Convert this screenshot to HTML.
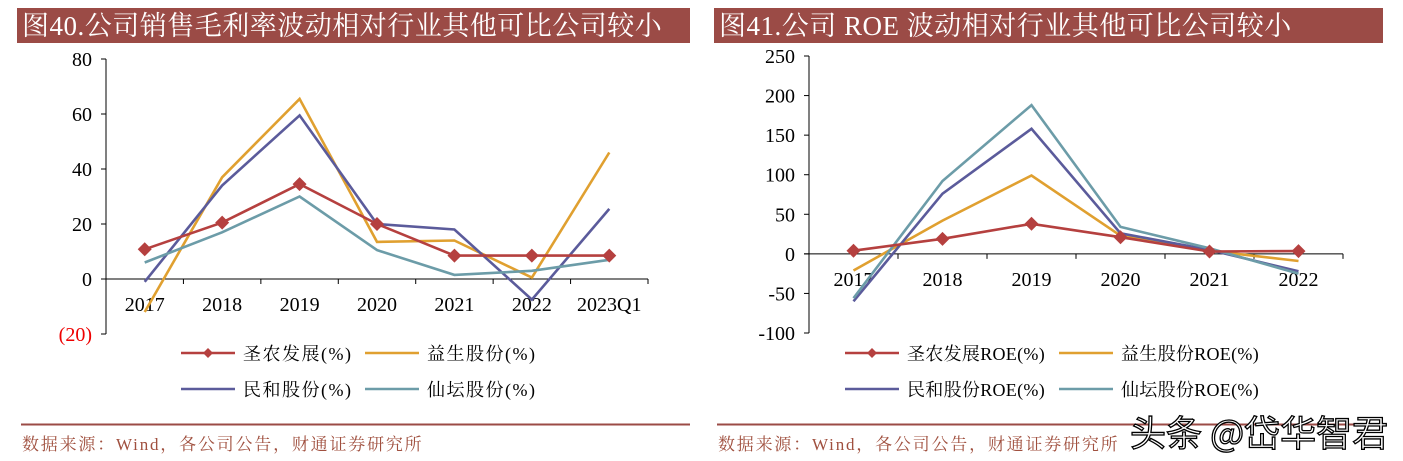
<!DOCTYPE html>
<html><head><meta charset="utf-8">
<style>
body{margin:0;background:#fff;}
svg{display:block;font-family:"Liberation Serif","Noto Serif CJK SC",serif;}
</style></head>
<body>
<svg id="s" width="1403" height="461" viewBox="0 0 1403 461">
<rect x="17" y="8" width="673" height="35" fill="#9B4B46"/>
<text x="22" y="35" font-size="27" letter-spacing="0.5" fill="#fff">图40.公司销售毛利率波动相对行业其他可比公司较小</text>
<rect x="714" y="8" width="669" height="35" fill="#9B4B46"/>
<text x="719" y="35" font-size="27" letter-spacing="0.5" fill="#fff">图41.公司 ROE 波动相对行业其他可比公司较小</text>
<line x1="21" y1="424.5" x2="690" y2="424.5" stroke="#9B4B46" stroke-width="2"/>
<line x1="717" y1="424.5" x2="1383" y2="424.5" stroke="#9B4B46" stroke-width="2"/>
<text x="22" y="450" font-size="17" letter-spacing="1.8" fill="#A0503F">数据来源：Wind，各公司公告，财通证券研究所</text>
<text x="718" y="450" font-size="17" letter-spacing="1.8" fill="#A0503F">数据来源：Wind，各公司公告，财通证券研究所</text>
<text x="1130" y="446" font-size="36" fill="#fff" stroke="#000" stroke-width="1.3" font-family="'Noto Sans CJK SC',sans-serif">头条 @岱华智君</text>
<g id="L"></g><g id="R"></g>
</svg>
<script>
const colors=["#B5403F","#E0A030","#5B5B9B","#6C9CA8"];
const leftCats=["2017","2018","2019","2020","2021","2022","2023Q1"];
const leftTicks=[80,60,40,20,0,-20];
const leftNames=["圣农发展(%)","益生股份(%)","民和股份(%)","仙坛股份(%)"];
const leftShengnong=[10.8,20.5,34.5,20,8.5,8.5,8.5];
const leftYisheng=[-12,37,65.5,13.5,14,0.5,46];
const leftMinhe=[-1,34,59.5,20,18,-7.5,25.5];
const leftXiantan=[6,17,30,10.5,1.5,3,7];
const rightCats=["2017","2018","2019","2020","2021","2022"];
const rightTicks=[250,200,150,100,50,0,-50,-100];
const rightNames=["圣农发展ROE(%)","益生股份ROE(%)","民和股份ROE(%)","仙坛股份ROE(%)"];
const rightShengnong=[4,19,38,21,3,3.5];
const rightYisheng=[-21,42,99,23,4,-9];
const rightMinhe=[-60,76,158,26,5,-22];
const rightXiantan=[-56,92,188,34,7,-25];

const NS="http://www.w3.org/2000/svg";
function mk(parent,tag,attrs,txt){const e=document.createElementNS(NS,tag);for(const k in attrs)e.setAttribute(k,attrs[k]);if(txt!==undefined)e.textContent=txt;parent.appendChild(e);return e;}

function chart(g,cfg){
  const {cats,ticks,series,names,x0,x1,yTop,yBot,vmax,vmin,fmt,leg,ls}=cfg;
  const y=v=>yTop+(vmax-v)/(vmax-vmin)*(yBot-yTop);
  const bw=(x1-x0)/cats.length;
  const x=i=>x0+bw*(i+0.5);
  let a=mk(g,'line',{x1:x0,y1:yTop,x2:x0,y2:yBot,stroke:'#000','stroke-width':1});
  
  
  ticks.forEach(t=>{
    let tl=mk(g,'line',{x1:x0-5,y1:y(t),x2:x0,y2:y(t),stroke:'#000'});
    
    
    let tx=mk(g,'text',{x:x0-14,y:y(t)+7,'font-size':20,'text-anchor':'end',fill:t<0&&cfg.red?'#E00':'#000'},fmt(t));
    
    
  });
  let xa=mk(g,'line',{x1:x0-5,y1:y(0),x2:x1,y2:y(0),stroke:'#000','stroke-width':1});
  
  
  for(let i=0;i<=cats.length;i++){
    let tk=mk(g,'line',{x1:x0+bw*i,y1:y(0),x2:x0+bw*i,y2:y(0)+5,stroke:'#000'});
    
    
  }
  cats.forEach((c,i)=>{
    let t=mk(g,'text',{x:x(i),y:y(0)+32,'font-size':20,'text-anchor':'middle'},c);
    
    
  });
  [1,2,3,0].forEach(si=>{
    const d=series[si].map((v,i)=>(i?'L':'M')+x(i).toFixed(1)+' '+y(v).toFixed(1)).join(' ');
    let p=mk(g,'path',{d:d,fill:'none',stroke:colors[si],'stroke-width':2.6});
    
    
    if(si===0){series[0].forEach((v,i)=>{
      let m=mk(g,'path',{d:`M${x(i)} ${y(v)-7}L${x(i)+7} ${y(v)}L${x(i)} ${y(v)+7}L${x(i)-7} ${y(v)}Z`,fill:colors[0]});
      
      
    });}
  });
  names.forEach((n,i)=>{
    const lxp=leg[i%2], ly=i<2?353:389;
    let l=mk(g,'line',{x1:lxp,y1:ly,x2:lxp+54,y2:ly,stroke:colors[i],'stroke-width':2.6});
    
    
    if(i===0){let m=mk(g,'path',{d:`M${lxp+27} ${ly-5}L${lxp+32} ${ly}L${lxp+27} ${ly+5}L${lxp+22} ${ly}Z`,fill:colors[0]});
      
      }
    let t=mk(g,'text',{x:lxp+62,y:ly+7,'font-size':18,'letter-spacing':ls},n);
    
    
  });
}
chart(document.getElementById('L'),{cats:leftCats,ticks:leftTicks,series:[leftShengnong,leftYisheng,leftMinhe,leftXiantan],names:leftNames,
  x0:106,x1:648,yTop:59,yBot:334,vmax:80,vmin:-20,red:true,fmt:t=>t<0?'('+(-t)+')':String(t),leg:[181,365],ls:1.5});
chart(document.getElementById('R'),{cats:rightCats,ticks:rightTicks,series:[rightShengnong,rightYisheng,rightMinhe,rightXiantan],names:rightNames,
  x0:809,x1:1343,yTop:56,yBot:333,vmax:250,vmin:-100,red:false,fmt:t=>String(t),leg:[845,1059],ls:0.3});
</script>
</body></html>
